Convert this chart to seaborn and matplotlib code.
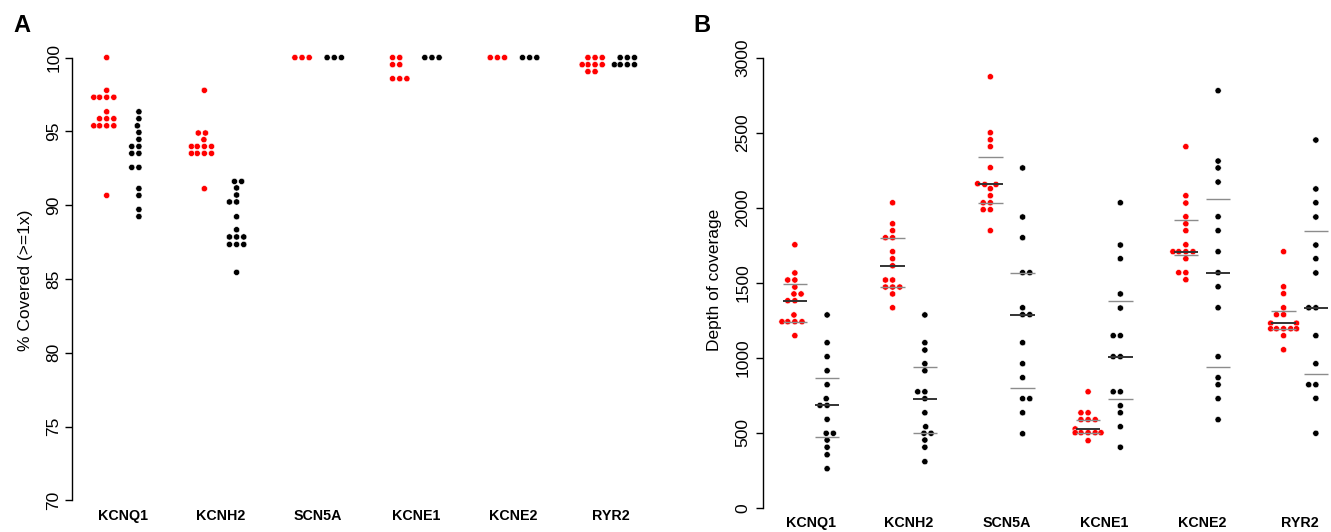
import numpy as np
import pandas as pd
import matplotlib
matplotlib.use("Agg")
import matplotlib.pyplot as plt
import seaborn as sns

sns.set_style("ticks")
plt.rcParams['font.family'] = ['Liberation Sans', 'DejaVu Sans']
plt.rcParams.update({'text.color': 'black', 'axes.labelcolor': 'black',
                     'xtick.color': 'black', 'ytick.color': 'black',
                     'axes.edgecolor': 'black'})

genes = ["KCNQ1", "KCNH2", "SCN5A", "KCNE1", "KCNE2", "RYR2"]

# panel A: % of target covered (>=1x), red group then black group, per gene
pct_grp1 = [
    [100, 97.78, 97.31, 97.31, 97.31, 97.31, 96.33, 95.86, 95.86, 95.86,
     95.38, 95.38, 95.38, 95.38, 90.66],
    [97.78, 94.89, 94.89, 94.44, 93.98, 93.98, 93.98, 93.98, 93.51, 93.51,
     93.51, 93.51, 91.12],
    [100, 100, 100],
    [100, 100, 99.52, 99.52, 98.57, 98.57, 98.57],
    [100, 100, 100],
    [100, 100, 100, 99.52, 99.52, 99.52, 99.52, 99.05, 99.05],
]
pct_grp2 = [
    [96.33, 95.86, 95.38, 94.93, 94.46, 93.98, 93.98, 93.51, 93.51, 92.56,
     92.56, 91.13, 90.66, 89.71, 89.23],
    [91.61, 91.61, 91.17, 90.69, 90.22, 90.22, 89.22, 88.34, 87.85, 87.85,
     87.85, 87.34, 87.34, 87.34, 85.45],
    [100, 100, 100],
    [100, 100, 100],
    [100, 100, 100],
    [100, 100, 100, 99.52, 99.52, 99.52, 99.52],
]

# panel B: depth of coverage
depth_grp1 = [
    [1753, 1565, 1518, 1518, 1471, 1425, 1425, 1380, 1380, 1285, 1240, 1240,
     1240, 1240, 1147],
    [2033, 1893, 1847, 1800, 1800, 1707, 1660, 1613, 1518, 1518, 1471, 1471,
     1471, 1425, 1333],
    [2873, 2500, 2453, 2407, 2267, 2160, 2155, 2155, 2127, 2080, 2033, 2033,
     1987, 1987, 1847],
    [773, 633, 633, 587, 587, 587, 525, 500, 500, 500, 500, 500, 447],
    [2407, 2080, 2031, 1940, 1893, 1847, 1753, 1707, 1707, 1707, 1707, 1660,
     1567, 1567, 1520],
    [1707, 1473, 1427, 1333, 1287, 1287, 1230, 1230, 1193, 1193, 1193, 1193,
     1193, 1147, 1053],
]
depth_grp2 = [
    [1285, 1100, 1007, 913, 820, 727, 682, 682, 589, 496, 496, 451, 403, 353,
     260],
    [1285, 1100, 1051, 960, 913, 773, 773, 727, 633, 540, 496, 496, 451, 403,
     307],
    [2265, 1938, 1800, 1567, 1567, 1333, 1287, 1287, 1100, 960, 867, 727, 727,
     633, 493],
    [2033, 1751, 1660, 1425, 1331, 1147, 1147, 1007, 1007, 773, 773, 680, 633,
     540, 403],
    [2780, 2311, 2265, 2171, 1940, 1847, 1707, 1567, 1473, 1333, 1007, 867,
     820, 727, 587],
    [2451, 2125, 2033, 1938, 1751, 1660, 1565, 1333, 1333, 1147, 960, 820,
     820, 729, 496],
]

OFFSET = 0.165
PALETTE = {"grp1": "#ff0000", "grp2": "black"}
W, H = 1331, 532


def to_long(grp1, grp2):
    rows = []
    for i, gene in enumerate(genes):
        rows += [(gene, "grp1", i - OFFSET, v) for v in grp1[i]]
        rows += [(gene, "grp2", i + OFFSET, v) for v in grp2[i]]
    return pd.DataFrame(rows, columns=["gene", "group", "xpos", "value"])


def px_axes(fig, left, right, top, bottom):
    return fig.add_axes([left / W, 1 - bottom / H, (right - left) / W, (bottom - top) / H])


def style_axis(ax, ticks, xpad, ypad):
    sns.despine(ax=ax, bottom=True)
    ax.spines['left'].set_bounds(ticks[0], ticks[-1])
    ax.spines['left'].set_linewidth(1)
    ax.set_yticks(ticks)
    ax.tick_params(axis='y', length=5, width=1, labelsize=12.5, pad=ypad)
    ax.tick_params(axis='x', length=0, pad=xpad)
    ax.set_xticks(range(len(genes)))
    ax.set_xticklabels(genes, fontweight="bold", fontsize=10.3)
    for t in ax.get_yticklabels():
        t.set_rotation(90)
        t.set_va("center")
    ax.set_xlabel("")


fig = plt.figure(figsize=(W / 100, H / 100), dpi=100)

# Panel A
df_a = to_long(pct_grp1, pct_grp2)
ax_a = px_axes(fig, 72, 662, 40, 507.7)
sns.swarmplot(data=df_a, x="xpos", y="value", hue="group", palette=PALETTE,
              native_scale=True, orient="x", size=4.5, linewidth=0.4,
              edgecolor="white", legend=False, warn_thresh=1, ax=ax_a)
ax_a.set_xlim(-0.52, 5.52)
ax_a.set_ylim(69.51, 101.19)
style_axis(ax_a, [70, 75, 80, 85, 90, 95, 100], xpad=1, ypad=2.5)
ax_a.set_ylabel("% Covered (>=1x)", fontsize=12.5)
ax_a.yaxis.set_label_coords(-0.066, 0.487)

# Panel B
df_b = to_long(depth_grp1, depth_grp2)
ax_b = px_axes(fig, 762.7, 1331, 40, 507.7)
sns.swarmplot(data=df_b, x="xpos", y="value", hue="group", palette=PALETTE,
              native_scale=True, orient="x", size=4.5, linewidth=0.4,
              edgecolor="white", legend=False, warn_thresh=1, ax=ax_b)

# quartile lines: median dark, quartiles gray
for (x, grp), sub in df_b.groupby(["xpos", "group"]):
    q1, med, q3 = np.percentile(sub["value"], [25, 50, 75])
    ax_b.hlines([q1, q3], x - 0.125, x + 0.125, color="#8c8c8c", lw=1.0, zorder=3)
    ax_b.hlines(med, x - 0.125, x + 0.125, color="#333333", lw=1.4, zorder=3)

ax_b.set_xlim(-0.494, 5.32)
ax_b.set_ylim(0, 3118)
style_axis(ax_b, [0, 500, 1000, 1500, 2000, 2500, 3000], xpad=6, ypad=4)
ax_b.set_ylabel("Depth of coverage", fontsize=12.5)
ax_b.yaxis.set_label_coords(-0.0716, 0.487)

fig.text(13 / W, 1 - 32 / H, "A", fontsize=17, fontweight="bold", va="baseline")
fig.text(693 / W, 1 - 32 / H, "B", fontsize=17, fontweight="bold", va="baseline")

fig.savefig("out.png", dpi=100)
